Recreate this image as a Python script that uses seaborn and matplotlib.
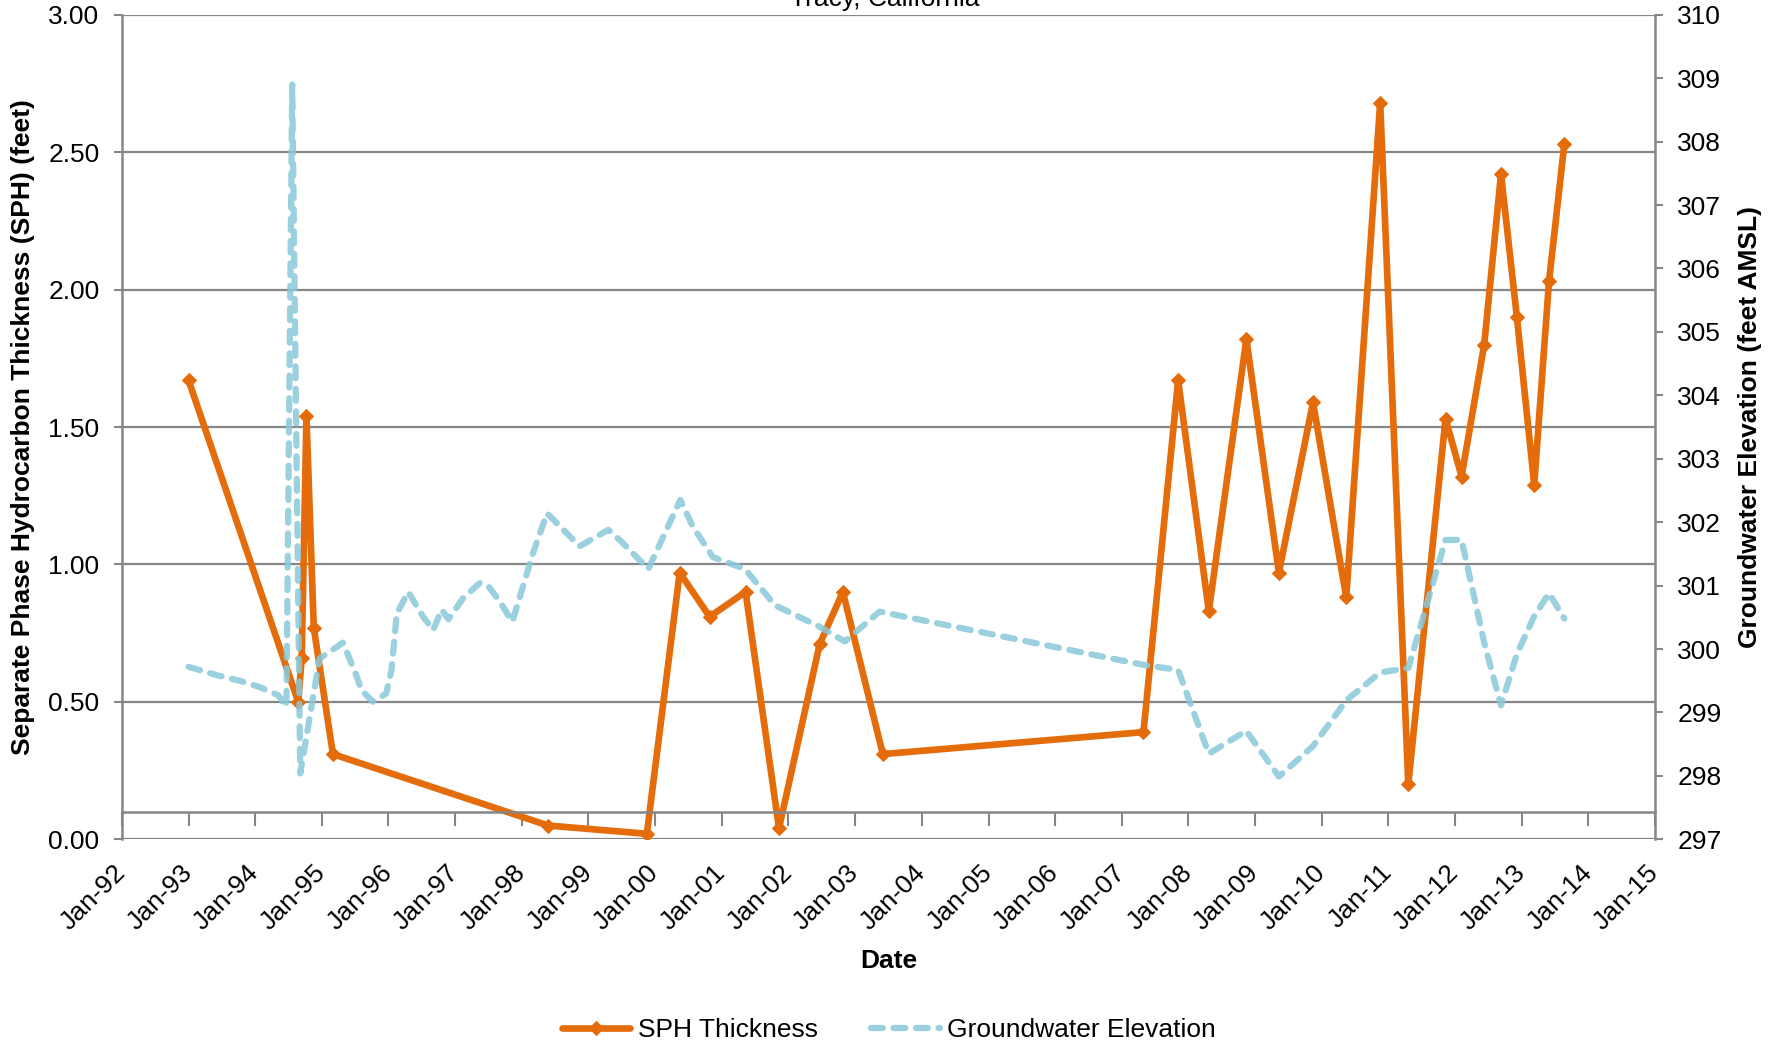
import pandas as pd
import numpy as np
import matplotlib
matplotlib.use("Agg")
import matplotlib.pyplot as plt
import seaborn as sns

# SPH thickness (feet), left axis
sph_dates = ['1993-01-01', '1994-08-25', '1994-09-13', '1994-10-09', '1994-11-18',
             '1995-03-03', '1998-05-26', '1999-11-17', '2000-05-15', '2000-10-26',
             '2001-05-11', '2001-11-10', '2002-06-21', '2002-10-26', '2003-06-02',
             '2007-04-30', '2007-11-06', '2008-04-22', '2008-11-14', '2009-05-11',
             '2009-11-14', '2010-05-15', '2010-11-17', '2011-04-20', '2011-11-10',
             '2012-02-06', '2012-06-09', '2012-09-09', '2012-12-05', '2013-03-10',
             '2013-05-30', '2013-08-22']
sph_feet = [1.67, 0.50, 0.66, 1.54, 0.77,
            0.31, 0.05, 0.02, 0.97, 0.81,
            0.90, 0.04, 0.71, 0.90, 0.31,
            0.39, 1.67, 0.83, 1.82, 0.97,
            1.59, 0.88, 2.68, 0.20, 1.53,
            1.32, 1.80, 2.42, 1.90, 1.29,
            2.03, 2.53]

# groundwater elevation (feet AMSL), right axis
gw_dates = ['1993-01-01', '1993-06-02', '1993-10-08', '1994-01-26', '1994-05-08',
            '1994-06-21', '1994-07-23', '1994-09-05', '1994-12-20', '1995-04-27',
            '1995-07-02', '1995-08-07', '1995-10-08', '1995-12-20', '1996-01-18',
            '1996-02-16', '1996-04-19', '1996-07-09', '1996-09-02', '1996-10-19',
            '1996-11-25', '1997-02-13', '1997-05-15', '1997-07-02', '1997-09-02',
            '1997-11-10', '1998-03-03', '1998-05-19', '1998-11-14', '1999-04-20',
            '1999-07-02', '1999-11-25', '2000-05-18', '2000-07-26', '2000-11-13',
            '2001-05-08', '2001-10-19', '2002-06-21', '2002-11-06', '2003-05-15',
            '2007-04-30', '2007-11-06', '2008-04-22', '2008-11-13', '2009-05-11',
            '2009-11-14', '2010-05-15', '2010-11-17', '2011-04-20', '2011-11-10',
            '2012-02-06', '2012-06-09', '2012-09-09', '2012-12-05', '2013-03-10',
            '2013-05-30', '2013-08-22']
gw_elev = [299.72, 299.59, 299.50, 299.40, 299.27,
           299.09, 308.90, 298.04, 299.85, 300.10,
           299.64, 299.35, 299.17, 299.30, 299.67,
           300.56, 300.90, 300.51, 300.30, 300.62,
           300.47, 300.80, 301.04, 300.99, 300.75,
           300.43, 301.51, 302.14, 301.62, 301.88,
           301.69, 301.26, 302.35, 301.93, 301.45,
           301.26, 300.69, 300.35, 300.12, 300.59,
           299.75, 299.67, 298.35, 298.71, 297.99,
           298.47, 299.19, 299.63, 299.70, 301.72,
           301.72, 300.10, 299.11, 299.92, 300.52,
           300.88, 300.48]

tick_years = list(range(1992, 2016))

sns.set_style("white")
plt.rcParams['font.family'] = ['Liberation Sans', 'DejaVu Sans']
plt.rcParams['text.color'] = 'black'
plt.rcParams['axes.labelcolor'] = 'black'

ORANGE = '#E46C0A'
BLUE = '#8AC9DA'
GRID = '#868686'
FS = 19

sph = pd.DataFrame({'date': pd.to_datetime(sph_dates), 'sph': sph_feet})
gw = pd.DataFrame({'date': pd.to_datetime(gw_dates), 'elev': gw_elev})

fig = plt.figure(figsize=(17.8, 10.46), dpi=100)
ax = fig.add_axes([0.0684, 0.1976, 0.8614, 0.7883])
ax2 = ax.twinx()

sns.lineplot(data=sph, x='date', y='sph', ax=ax, color=ORANGE, linewidth=4.8,
             marker='D', markersize=7.5, markeredgecolor=ORANGE)
sns.lineplot(data=gw, x='date', y='elev', ax=ax2, color=BLUE, linewidth=4.5, alpha=0.85)
gw_line = ax2.lines[0]
gw_line.set_linestyle((0, (1.9, 1.7)))
gw_line.set_dash_capstyle('round')

ax.set_ylim(0, 3)
ax.set_yticks(np.arange(0, 3.01, 0.5))
ax.yaxis.set_major_formatter(matplotlib.ticker.FormatStrFormatter('%.2f'))
ax2.set_ylim(297, 310)
ax2.set_yticks(range(297, 311))

ax.grid(axis='y', color=GRID, linewidth=1.6)
ax.grid(axis='x', visible=False)
ax2.grid(False)

for side in ['top', 'right']:
    ax.spines[side].set_visible(False)
for side in ['top', 'left', 'bottom']:
    ax2.spines[side].set_visible(False)
for sp in [ax.spines['left'], ax.spines['bottom'], ax2.spines['right']]:
    sp.set_color(GRID)
    sp.set_linewidth(1.8)

ax.tick_params(axis='y', direction='out', length=6, width=1.5, color=GRID,
               labelsize=FS, labelcolor='black', pad=10, left=True)
ax.tick_params(axis='x', direction='out', length=10, width=1.5, color=GRID,
               labelsize=FS, labelcolor='black', pad=31, bottom=True)
ax2.tick_params(axis='y', direction='out', length=6, width=1.5, color=GRID,
                labelsize=FS, labelcolor='black', pad=10, right=True)

# x axis: category line sits at 0.10 on the left scale
tick_dates = pd.to_datetime([f'{y}-01-01' for y in tick_years])
ax.set_xlim(tick_dates[0], tick_dates[-1])
ax.spines['bottom'].set_position(('data', 0.1))
ax.set_xticks(tick_dates)
ax.set_xticklabels([d.strftime('%b-%y') for d in tick_dates])
for lab in ax.get_xticklabels():
    lab.set_rotation(45)
    lab.set_ha('right')
    lab.set_va('center')
    lab.set_rotation_mode('anchor')

ax.set_xlabel('Date', fontsize=FS, fontweight='bold')
ax.xaxis.set_label_coords(0.5, -0.133)
ax.set_ylabel('Separate Phase Hydrocarbon Thickness (SPH) (feet)', fontsize=FS, fontweight='bold')
ax.yaxis.set_label_coords(-0.0566, 0.5)
ax2.set_ylabel('Groundwater Elevation (feet AMSL)', fontsize=FS, fontweight='bold')
ax2.yaxis.set_label_coords(1.054, 0.5)

fig.text(0.4972, 0.9945, 'Tracy, California', ha='center', va='baseline', fontsize=FS)

fig.legend([ax.lines[0], gw_line], ['SPH Thickness', 'Groundwater Elevation'],
           loc='center', bbox_to_anchor=(0.4994, 0.0150), ncol=2, frameon=False,
           fontsize=FS, handlelength=2.6, handletextpad=0.3, columnspacing=2.0)

fig.savefig('out.png', dpi=100)
plt.close(fig)
